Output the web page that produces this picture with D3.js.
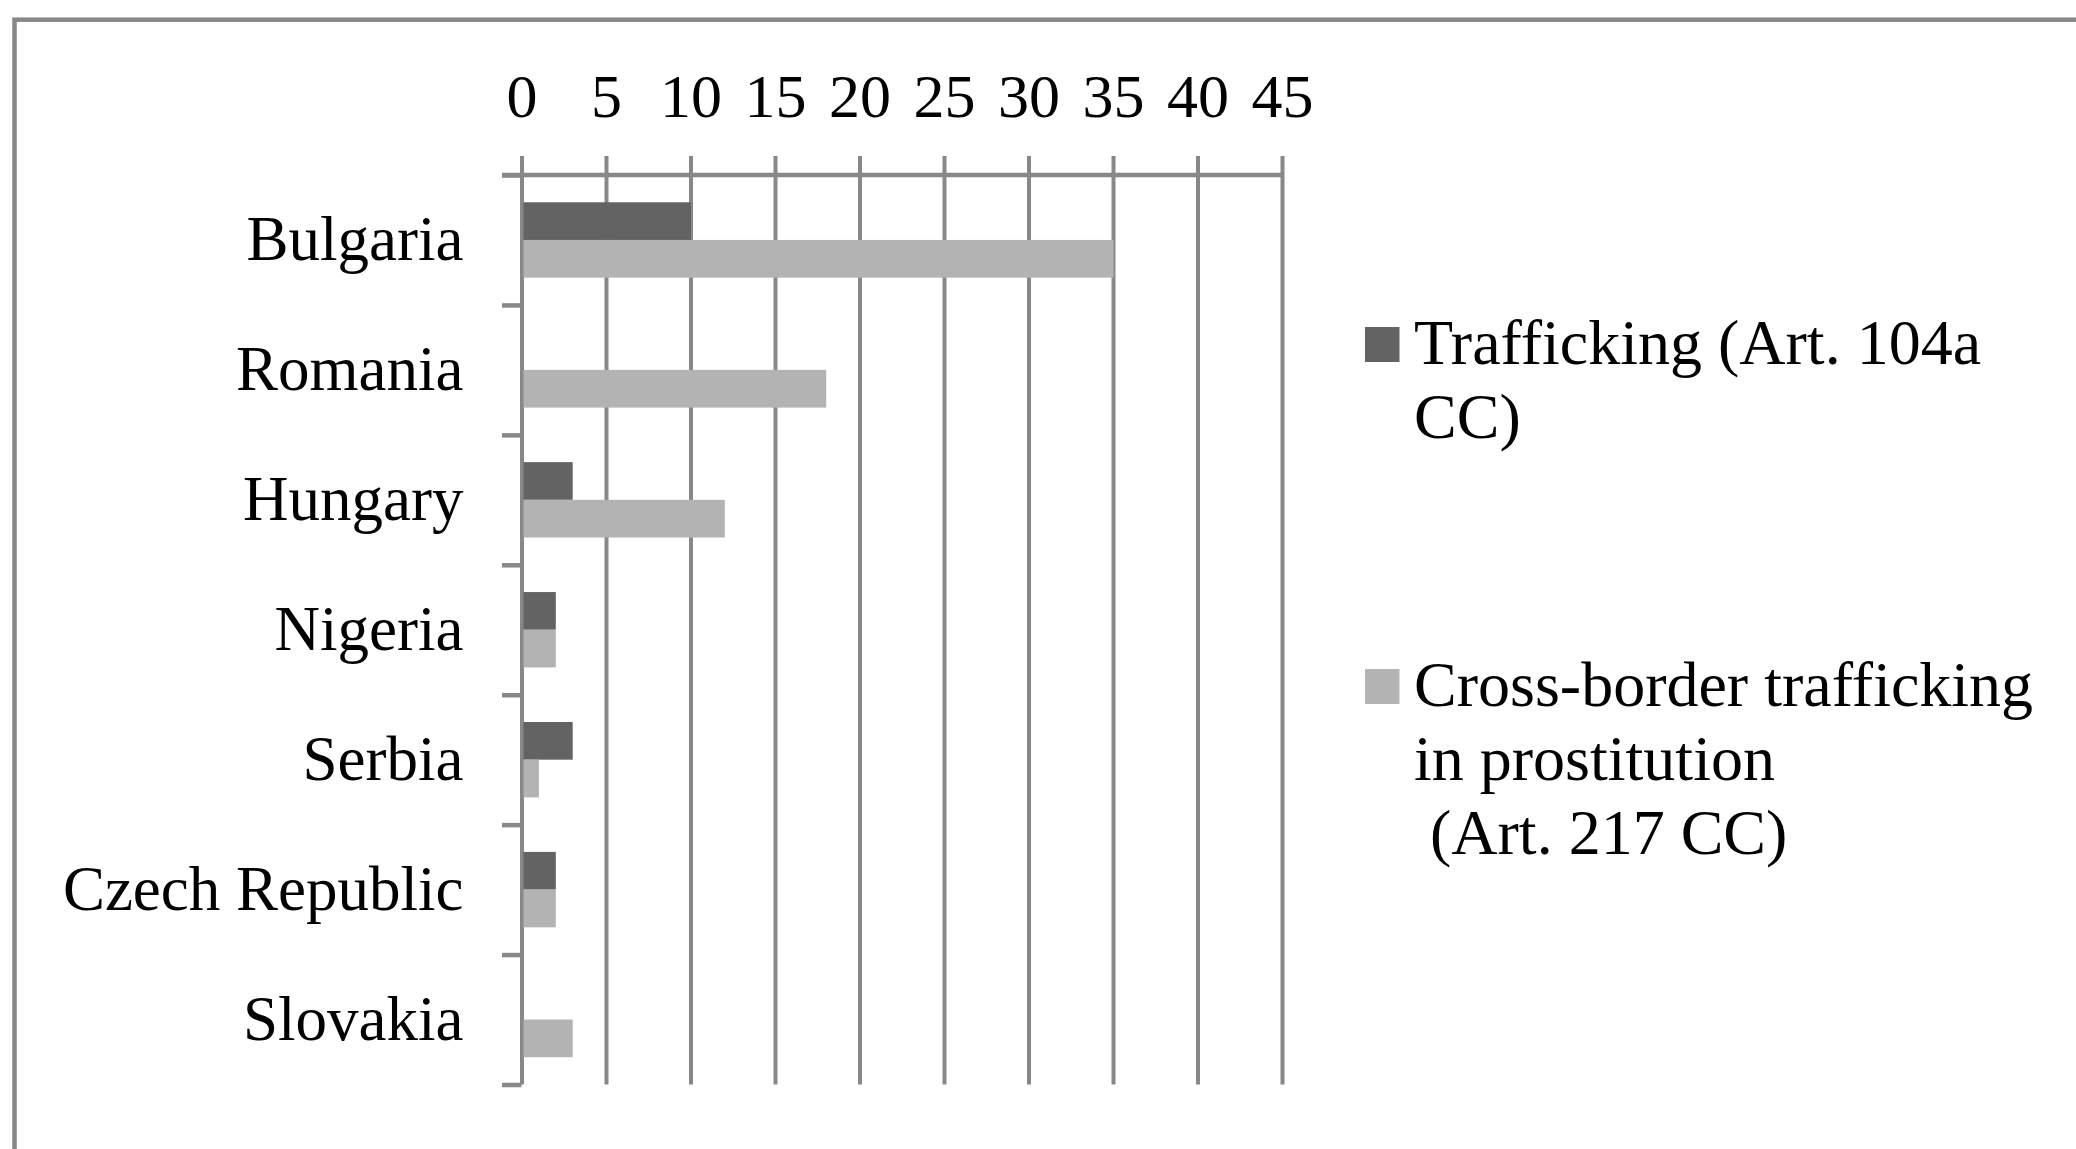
<!DOCTYPE html>
<html>
<head>
<meta charset="utf-8">
<script src="https://cdn.jsdelivr.net/npm/d3@7"></script>
<style>
  html, body { margin: 0; padding: 0; background: #fff; }
  svg { display: block; }
  text { font-family: "Liberation Serif", "DejaVu Serif", serif; fill: #000; }
</style>
</head>
<body>
<svg id="chart" width="2076" height="1149"></svg>
<script>
const categories = ["Bulgaria", "Romania", "Hungary", "Nigeria", "Serbia", "Czech Republic", "Slovakia"];
const trafficking = [10, 0, 3, 2, 3, 2, 0];
const crossBorder = [35, 18, 12, 2, 1, 2, 3];
const seriesNames = ["Trafficking (Art. 104a|CC)", "Cross-border trafficking|in prostitution| (Art. 217 CC)"];
const tickValues = [0, 5, 10, 15, 20, 25, 30, 35, 40, 45];

const colors = ["#636363", "#b3b3b3"];
const gridColor = "#888888";
const fontSize = 62;
const legendFontSize = 64;
const catFontSize = 63;

const svg = d3.select("#chart");

// outer frame
svg.append("rect")
  .attr("x", 14.5).attr("y", 19.7)
  .attr("width", 2200).attr("height", 1300)
  .attr("fill", "none").attr("stroke", "#878787").attr("stroke-width", 4.5);

const pLeft = 521.5, pRight = 1282, pTop = 175, pBottom = 1084.5;

const x = d3.scaleLinear().domain([0, 45]).range([pLeft, pRight]);
const y = d3.scaleBand().domain(categories).range([pTop, pBottom]).paddingInner(0).paddingOuter(0);
const yIdx = d3.scaleLinear().domain([0, categories.length]).range([pTop, pBottom]);

// gridlines + top labels via axisTop placed at the bottom
const xAxis = svg.append("g")
  .attr("transform", `translate(0,${pBottom})`)
  .call(d3.axisTop(x).tickValues(tickValues).tickSize(pBottom - 156).tickPadding(39).tickFormat(d3.format("d")));
xAxis.select(".domain").remove();
xAxis.selectAll(".tick line").attr("stroke", gridColor).attr("stroke-width", 4);
xAxis.selectAll(".tick text").attr("font-size", fontSize).attr("font-family", "Liberation Serif").attr("fill", "#000");

// horizontal axis line at top
svg.append("line")
  .attr("x1", pLeft - 19.5).attr("x2", pRight + 2)
  .attr("y1", pTop).attr("y2", pTop)
  .attr("stroke", gridColor).attr("stroke-width", 4.5);

// category boundary ticks
const yTicks = svg.append("g")
  .attr("transform", `translate(${pLeft},0)`)
  .call(d3.axisLeft(yIdx).tickValues(d3.range(categories.length + 1)).tickSize(19.5).tickFormat(""));
yTicks.select(".domain").remove();
yTicks.selectAll(".tick line").attr("stroke", gridColor).attr("stroke-width", 4.5);

// category labels
const yLab = svg.append("g")
  .attr("transform", `translate(${pLeft},0)`)
  .call(d3.axisLeft(y).tickSize(0).tickPadding(58));
yLab.select(".domain").remove();
yLab.selectAll(".tick text")
  .attr("font-size", catFontSize).attr("font-family", "Liberation Serif").attr("fill", "#000")
  .attr("dy", "0.32em");

// bars
const barH = 37.7;
const series = [trafficking, crossBorder];
series.forEach((vals, si) => {
  svg.append("g").selectAll("rect")
    .data(categories.map((c, i) => ({ c, v: vals[i] })))
    .join("rect")
    .attr("x", x(0) + 2)
    .attr("y", d => y(d.c) + y.bandwidth() / 2 - barH + si * barH)
    .attr("width", d => d.v > 0 ? x(d.v) - x(0) - 1.5 : 0)
    .attr("height", barH)
    .attr("fill", colors[si]);
});

// legend
const legendItems = [
  { name: seriesNames[0], color: colors[0], sqY: 327, base: 364 },
  { name: seriesNames[1], color: colors[1], sqY: 669, base: 706 }
];
legendItems.forEach(it => {
  svg.append("rect")
    .attr("x", 1365).attr("y", it.sqY).attr("width", 34.5).attr("height", 35)
    .attr("fill", it.color);
  const t = svg.append("text")
    .attr("x", 1414).attr("y", it.base)
    .attr("font-size", legendFontSize)
    .style("white-space", "pre");
  it.name.split("|").forEach((line, li) => {
    t.append("tspan").attr("x", 1414).attr("y", it.base + li * 74).text(line);
  });
});
</script>
</body>
</html>
